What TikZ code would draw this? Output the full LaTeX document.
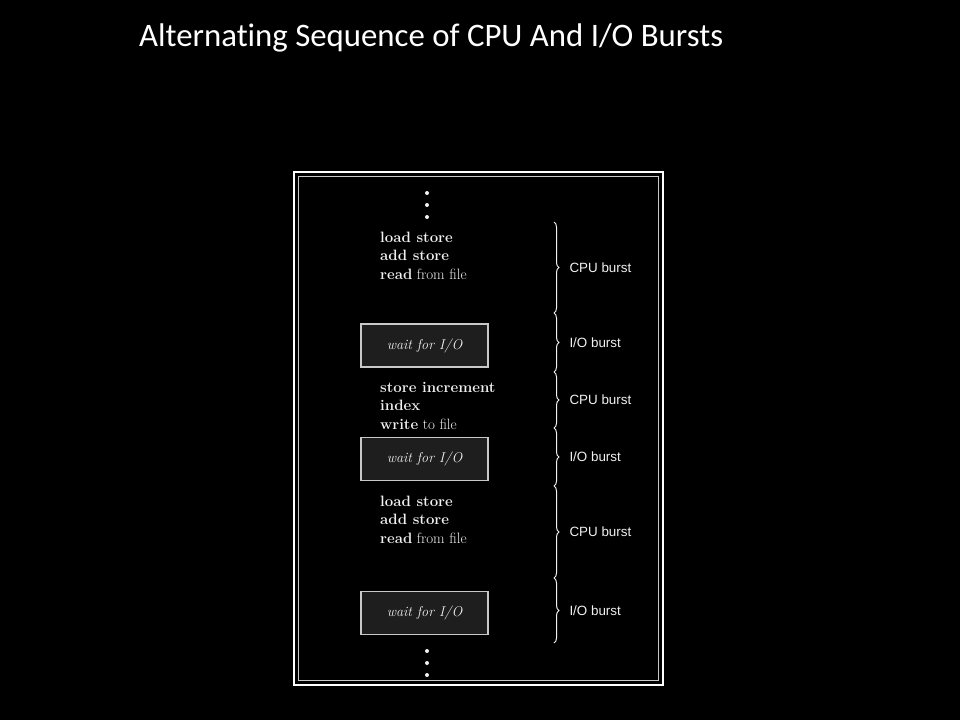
\documentclass[tikz,border=0pt]{standalone}
\usepackage{fontspec}
\newfontfamily\titlefont[Ligatures=NoCommon]{Carlito}
\newfontfamily\burstfont{Liberation Sans}
\usetikzlibrary{decorations.pathreplacing}
\definecolor{boxfill}{HTML}{1E1E1E}
\definecolor{boxline}{HTML}{C8C8C8}
\definecolor{ink}{HTML}{F0F0F0}
\begin{document}
\begin{tikzpicture}[x=1pt, y=-1pt,
    code/.style={anchor=base west, align=left, text=ink, inner sep=0pt,
      font=\fontsize{15}{18.5}\selectfont},
    waitbox/.style={draw=boxline, fill=boxfill, line width=1.2pt, minimum width=127pt,
      minimum height=43pt, text=ink, font=\fontsize{14.2}{16}\selectfont\itshape},
    burst/.style={anchor=west, text=ink, inner sep=0pt, font=\burstfont\fontsize{13.4}{16}\selectfont},
    bracedraw/.style={draw=ink, line width=1pt, decorate,
      decoration={brace, amplitude=5pt}},
    dotmark/.style={circle, fill=ink, inner sep=0pt, minimum size=4pt}]
    \fill[black] (0,0) rectangle (960,720);
    \useasboundingbox (0,0) rectangle (960,720);

    % title
    \node (title) [anchor=base west, inner sep=0pt, text=white,
      font=\titlefont\fontsize{32.8}{38}\selectfont] at (139,46)
      {Alternating Sequence of CPU And I/O Bursts};

    % frame
    \draw[white, line width=2.5pt] (294,172) rectangle (663,685);
    \draw[boxline, line width=1.3pt] (298.5,176.5) rectangle (658.5,680.5);

    % dots
    \foreach \y [count=\i] in {193,205,217} {
      \node (top\i) [dotmark] at (427,\y) {};
    }
    \foreach \y [count=\i] in {651,663,675} {
      \node (bot\i) [dotmark] at (427,\y) {};
    }

    % code lines (base = last line)
    \node (cpuA) [code] at (380,279) {\textbf{load store}\\\textbf{add store}\\\textbf{read} from file};
    \node (cpuB) [code] at (380,429) {\textbf{store increment}\\\textbf{index}\\\textbf{write} to file};
    \node (cpuC) [code] at (380,543) {\textbf{load store}\\\textbf{add store}\\\textbf{read} from file};

    % waits
    \node (waitA) [waitbox] at (424.5,345.5) {wait for I/O};
    \node (waitB) [waitbox] at (424.5,459) {wait for I/O};
    \node (waitC) [waitbox] at (424.5,613) {wait for I/O};

    % brace ends
    \coordinate (b0) at (554,222);
    \coordinate (b1) at (554,313);
    \coordinate (b2) at (554,372);
    \coordinate (b3) at (554,428);
    \coordinate (b4) at (554,486);
    \coordinate (b5) at (554,578);
    \coordinate (b6) at (554,643);

    \draw [bracedraw] (b0) -- (b1) node [midway, xshift=15pt, burst] (lblA) {CPU burst};
    \draw [bracedraw] (b1) -- (b2) node [midway, xshift=15pt, burst] (lblB) {I/O burst};
    \draw [bracedraw] (b2) -- (b3) node [midway, xshift=15pt, burst] (lblC) {CPU burst};
    \draw [bracedraw] (b3) -- (b4) node [midway, xshift=15pt, burst] (lblD) {I/O burst};
    \draw [bracedraw] (b4) -- (b5) node [midway, xshift=15pt, burst] (lblE) {CPU burst};
    \draw [bracedraw] (b5) -- (b6) node [midway, xshift=15pt, burst] (lblF) {I/O burst};
\end{tikzpicture}
\end{document}
